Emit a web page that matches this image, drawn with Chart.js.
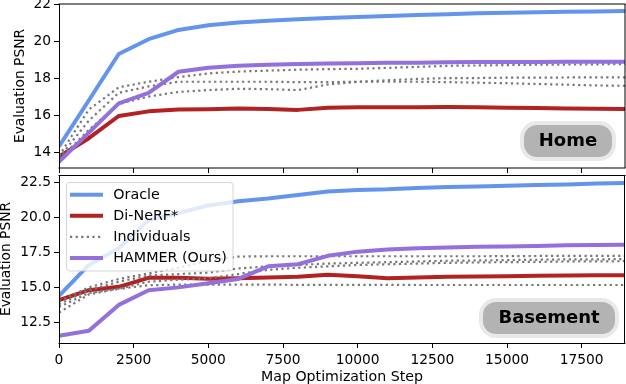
<!DOCTYPE html>
<html><head><meta charset="utf-8">
<script src="https://cdn.jsdelivr.net/npm/chart.js@4.4.1/dist/chart.umd.min.js"></script>
<style>
html,body{margin:0;padding:0;background:#fff;width:626px;height:384px;overflow:hidden}
#c1{position:absolute;left:0;top:0}
#c2{position:absolute;left:0;top:172px}
</style></head><body>
<canvas id="c1" width="626" height="176" style="width:626px;height:176px"></canvas>
<canvas id="c2" width="626" height="212" style="width:626px;height:212px"></canvas>
<script>
// ---------- data ----------
const steps = [0,1000,2000,3000,4000,5000,6000,7000,8000,9000,10000,11000,12000,13000,14000,15000,16000,17000,18000,19000];
const xTicks = [0,2500,5000,7500,10000,12500,15000,17500];
const xTickLabels = ['0','2500','5000','7500','10000','12500','15000','17500'];
const homeYTicks = [14,16,18,20,22];
const homeYLabels = ['14','16','18','20','22'];
const baseYTicks = [12.5,15,17.5,20,22.5];
const baseYLabels = ['12.5','15.0','17.5','20.0','22.5'];
const seriesNames = ['Oracle','Di-NeRF*','Individuals','HAMMER (Ours)'];
const panelNames = ['Home','Basement'];

const homeOracle = [14.3,16.8,19.3,20.1,20.6,20.85,21.0,21.1,21.17,21.25,21.3,21.35,21.4,21.45,21.5,21.53,21.56,21.58,21.6,21.62];
const homeDiNeRF = [13.75,14.75,15.95,16.2,16.3,16.32,16.36,16.33,16.28,16.4,16.42,16.42,16.42,16.43,16.42,16.4,16.38,16.36,16.34,16.32];
const homeHammer = [13.48,15.05,16.63,17.2,18.34,18.56,18.67,18.72,18.76,18.78,18.8,18.82,18.83,18.85,18.86,18.86,18.87,18.88,18.88,18.88];
const homeInd1 = [13.8,16.3,17.5,17.8,18.05,18.25,18.35,18.4,18.45,18.48,18.5,18.55,18.6,18.66,18.68,18.7,18.72,18.73,18.74,18.76];
const homeInd2 = [13.7,15.7,17.2,17.55,17.8,17.8,17.8,17.8,17.78,17.78,17.8,17.8,17.8,17.78,17.75,17.72,17.68,17.64,17.6,17.58];
const homeInd3 = [13.6,15.2,16.6,17.0,17.25,17.35,17.42,17.4,17.35,17.65,17.8,17.88,17.95,18.0,18.0,18.02,18.02,18.03,18.04,18.04];

const baseOracle = [14.4,16.6,17.8,19.8,20.3,20.85,21.15,21.35,21.6,21.85,21.95,22.0,22.1,22.17,22.2,22.25,22.3,22.35,22.42,22.45];
const baseDiNeRF = [14.1,14.8,15.04,15.68,15.68,15.62,15.65,15.7,15.75,15.9,15.8,15.65,15.7,15.75,15.78,15.8,15.83,15.85,15.86,15.87];
const baseHammer = [11.55,11.9,13.75,14.8,15.0,15.3,15.6,16.5,16.65,17.25,17.55,17.7,17.8,17.85,17.9,17.92,17.95,18.0,18.02,18.05];
const baseInd1 = [14.0,15.0,15.6,16.0,16.4,16.9,17.2,17.22,17.22,17.22,17.22,17.22,17.22,17.22,17.22,17.23,17.24,17.25,17.25,17.25];
const baseInd2 = [13.8,14.8,15.4,15.85,15.95,16.05,16.35,16.5,16.6,16.7,16.75,16.8,16.85,16.9,16.92,16.95,16.97,17.0,17.0,17.02];
const baseInd3 = [13.2,14.5,14.9,15.4,15.55,15.65,15.95,16.25,16.4,16.5,16.6,16.65,16.7,16.75,16.78,16.8,16.82,16.85,16.85,16.87];
const baseInd4 = [13.6,14.6,14.9,15.15,15.2,15.2,15.2,15.2,15.18,15.18,15.18,15.18,15.17,15.17,15.17,15.17,15.17,15.17,15.17,15.17];

// ---------- styling ----------
const FONT = 'DejaVu Sans';
Chart.defaults.font.family = FONT;
Chart.defaults.color = '#000';

const STY = [
  {borderColor:'#6495ED', borderWidth:4, order:4},
  {borderColor:'#B22222', borderWidth:4, order:3},
  {borderColor:'#777777', borderWidth:2.2, borderDash:[2.2,3.4], order:2},
  {borderColor:'#9370DB', borderWidth:4, order:1}
];
function pts(arr){ return arr.map((v,i)=>({x:steps[i], y:v})); }
function makeDatasets(o, d, inds, h){
  const ds = [];
  ds.push(Object.assign({label:seriesNames[0], data:pts(o), showInLegend:true}, STY[0]));
  ds.push(Object.assign({label:seriesNames[1], data:pts(d), showInLegend:true}, STY[1]));
  inds.forEach((a,k)=>ds.push(Object.assign({label:seriesNames[2], data:pts(a), showInLegend:k===0}, STY[2])));
  ds.push(Object.assign({label:seriesNames[3], data:pts(h), showInLegend:true}, STY[3]));
  return ds.map(x=>Object.assign({pointRadius:0, tension:0, fill:false, clip:0, borderJoinStyle:'round', borderCapStyle:'butt'}, x));
}

// ---------- plugins ----------
const framePlugin = {
  id:'frame',
  afterDatasetsDraw(chart, args, o){
    const {ctx, chartArea:a} = chart;
    ctx.save();
    ctx.lineWidth = 1;
    ctx.strokeStyle = '#000';
    const seg=(x1,y1,x2,y2)=>{ctx.beginPath();ctx.moveTo(x1,y1);ctx.lineTo(x2,y2);ctx.stroke();};
    const t=o.top, b=o.bottom, l=o.left, r=o.right;
    seg(a.left-0.5, t, a.right+0.5, t);
    seg(a.left-0.5, b, a.right+0.5, b);
    seg(l, a.top, l, a.bottom);
    seg(r, a.top, r, a.bottom);
    ctx.restore();
  }
};
function rrect(ctx,x,y,w,h,r){
  ctx.beginPath();
  ctx.moveTo(x+r,y); ctx.lineTo(x+w-r,y); ctx.arcTo(x+w,y,x+w,y+r,r);
  ctx.lineTo(x+w,y+h-r); ctx.arcTo(x+w,y+h,x+w-r,y+h,r);
  ctx.lineTo(x+r,y+h); ctx.arcTo(x,y+h,x,y+h-r,r);
  ctx.lineTo(x,y+r); ctx.arcTo(x,y,x+r,y,r); ctx.closePath();
}
const tagPlugin = {
  id:'tag',
  afterDraw(chart, args, o){
    if(!o.text) return;
    const ctx = chart.ctx;
    ctx.save();
    rrect(ctx,o.x,o.y,o.w,o.h,o.r);
    ctx.lineWidth = 8; ctx.strokeStyle = '#e9e9e9'; ctx.stroke();
    ctx.fillStyle = '#b3b3b3'; ctx.fill();
    ctx.fillStyle = '#000';
    ctx.font = 'bold 18px "'+FONT+'"';
    ctx.textAlign = 'center'; ctx.textBaseline = 'middle';
    ctx.fillText(o.text, o.tx, o.ty);
    ctx.restore();
  }
};
const legendPlugin = {
  id:'mlegend',
  afterDraw(chart, args, o){
    if(!o.show) return;
    const ctx = chart.ctx;
    ctx.save();
    rrect(ctx,o.x,o.y,o.w,o.h,3);
    ctx.fillStyle='rgba(255,255,255,0.8)'; ctx.fill();
    ctx.lineWidth=1; ctx.strokeStyle='rgba(204,204,204,0.8)'; ctx.stroke();
    const items = chart.data.datasets.filter(d=>d.showInLegend);
    items.forEach((d,i)=>{
      const y = o.row0 + i*o.rowGap;
      ctx.beginPath();
      ctx.strokeStyle=d.borderColor; ctx.lineWidth=d.borderWidth;
      ctx.setLineDash(d.borderDash||[]);
      ctx.lineCap='butt';
      ctx.moveTo(o.hx0,y); ctx.lineTo(o.hx1,y); ctx.stroke();
      ctx.setLineDash([]);
      ctx.fillStyle='#000';
      ctx.font='14.3px "'+FONT+'"';
      ctx.textAlign='left'; ctx.textBaseline='middle';
      ctx.fillText(d.label, o.tx, y+0.5);
    });
    ctx.restore();
  }
};

function yScale(min,max,ticks,labels,titlePad){
  return {
    type:'linear', min, max,
    afterBuildTicks:s=>{ s.ticks = ticks.map(v=>({value:v})); },
    afterFit:s=>{ s.width=59; s.paddingTop=0; s.paddingBottom=0; },
    ticks:{color:'#000', font:{size:13.8}, padding:3, callback:(v,i)=>labels[i]},
    grid:{drawOnChartArea:false, drawTicks:true, tickLength:5, tickColor:'#000', tickWidth:1},
    border:{display:false},
    title:{display:true, text:'Evaluation PSNR', color:'#000', font:{size:13.8}, padding:{top:titlePad,bottom:0}}
  };
}
function xScale(showLabels, h){
  return {
    type:'linear', min:0, max:18950,
    afterBuildTicks:s=>{ s.ticks = xTicks.map(v=>({value:v})); },
    afterFit:s=>{ s.height=h; s.paddingLeft=0; s.paddingRight=0; },
    ticks:{display:showLabels, color:'#000', font:{size:13.8}, padding:4, maxRotation:0, autoSkip:false, callback:(v,i)=>xTickLabels[i]},
    grid:{drawOnChartArea:false, drawTicks:true, tickLength:5, tickColor:'#000', tickWidth:1},
    border:{display:false},
    title:{display:showLabels, text:'Map Optimization Step', color:'#000', font:{size:14.2}, padding:{top:0,bottom:-2}}
  };
}

new Chart(document.getElementById('c1'), {
  type:'line',
  data:{datasets:makeDatasets(homeOracle, homeDiNeRF, [homeInd1,homeInd2,homeInd3], homeHammer)},
  options:{
    responsive:false, animation:false, events:[],
    layout:{padding:{left:0,right:1,top:4,bottom:0}},
    plugins:{legend:{display:false}, tooltip:{enabled:false},
      frame:{top:4, bottom:168, left:59.5, right:625},
      tag:{text:panelNames[0], x:524, y:125, w:88, h:32, r:13, tx:568, ty:141.5},
      mlegend:{show:false}},
    scales:{x:xScale(false,8), y:yScale(13.14,22,homeYTicks,homeYLabels,12.3)}
  },
  plugins:[framePlugin, tagPlugin, legendPlugin]
});

new Chart(document.getElementById('c2'), {
  type:'line',
  data:{datasets:makeDatasets(baseOracle, baseDiNeRF, [baseInd1,baseInd2,baseInd3,baseInd4], baseHammer)},
  options:{
    responsive:false, animation:false, events:[],
    layout:{padding:{left:0,right:1,top:3,bottom:0}},
    plugins:{legend:{display:false}, tooltip:{enabled:false},
      frame:{top:3.5, bottom:171.5, left:59.5, right:624.5},
      tag:{text:panelNames[1], x:483, y:130, w:132, h:32, r:13, tx:549, ty:146.5},
      mlegend:{show:true, x:66.5, y:10.5, w:166.5, h:88.5, row0:22.7, rowGap:21.1, hx0:70, hx1:103, tx:113.3}},
    scales:{x:xScale(true,41), y:yScale(11.03,23.02,baseYTicks,baseYLabels,-1.5)}
  },
  plugins:[framePlugin, tagPlugin, legendPlugin]
});
</script></body></html>
